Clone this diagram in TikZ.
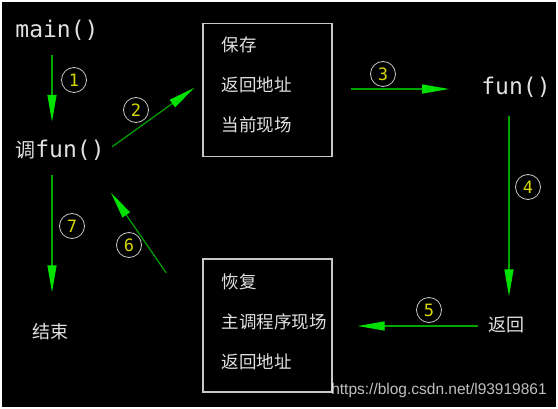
\documentclass[tikz,border=0pt]{standalone}
\usepackage{fontspec}
\usepackage{tikz}
\usetikzlibrary{arrows.meta}
\newfontfamily\cjk{Noto Sans CJK SC}
\newfontfamily\codefont{DejaVu Sans Mono}
\newfontfamily\markfont{Liberation Sans}
\definecolor{linegreen}{RGB}{0,165,0}
\definecolor{headgreen}{RGB}{0,225,0}
\definecolor{numyellow}{RGB}{215,215,0}
\definecolor{rimgray}{RGB}{200,200,200}
\definecolor{txtwhite}{RGB}{225,225,225}
\pgfdeclarelayer{background}
\pgfsetlayers{background,main}
\tikzstyle{code}=[font=\codefont\fontsize{23}{23}\selectfont, text=txtwhite, inner sep=0pt, text height=16pt, text depth=4pt]
\tikzstyle{word}=[font=\cjk\fontsize{18}{40}\selectfont, text=txtwhite, inner sep=0pt, text height=14pt, text depth=3pt]
\tikzstyle{memo}=[draw=rimgray, line width=1.2pt, minimum width=129pt, minimum height=133pt, inner sep=0pt]
\tikzstyle{memotext}=[font=\cjk\fontsize{17.5}{40}\selectfont, text=txtwhite, align=left, inner sep=0pt, anchor=west]
\tikzstyle{stepnum}=[circle, draw=rimgray, line width=0.8pt, minimum size=25pt, inner sep=0pt, text=numyellow, font=\codefont\fontsize{17}{17}\selectfont]
\tikzstyle{flow}=[draw=linegreen, line width=1.2pt, -{Triangle[length=27pt,width=9pt,color=headgreen]}]
\tikzstyle{watermark}=[font=\markfont\fontsize{15.5}{16}\selectfont, text=white, text opacity=0.75, inner sep=0pt]

\begin{document}
\begin{tikzpicture}[x=1pt, y=-1pt]
	\useasboundingbox (0,0) rectangle (558,409);
	% First the calls, the returns and the two boxes
	\node[code] (mainfn) at (57,32) {main()};
	\node[code] (callfun) at (60,152) {{\cjk\fontsize{20}{20}\selectfont 调}fun()};
	\node[code] (fun) at (516,89) {fun()};
	\node[word] (back) at (506,326) {返回};
	\node[word] (finish) at (50,333) {结束};
	\node[memo] (save) at (267.5,90) {};
	\node[memo] (restore) at (267.5,325.5) {};
	\node[memotext] (savetext) at ([xshift=19pt, yshift=5pt]save.west) {保存\\返回地址\\当前现场};
	\node[memotext] (restoretext) at ([xshift=19pt, yshift=3.5pt]restore.west) {恢复\\主调程序现场\\返回地址};

	% Step numbers
	\foreach \pos/\name/\num in {{(74,80)/one/1}, {(136,110)/two/2}, {(383,74)/three/3},
								{(528,187)/four/4}, {(429,310)/five/5}, {(129,245)/six/6}, {(72,226)/seven/7}}
	\node[stepnum] (\name) at \pos {\num};

	% Connect the steps
	\path[flow, shorten <=13pt, shorten >=20pt] ([xshift=-5pt]mainfn.south) -- ([xshift=-8pt]callfun.north);
	\path[flow, shorten <=9pt, shorten >=10pt] (callfun.east) -- ([yshift=8pt]save.west);
	\path[flow, shorten <=18pt, shorten >=32pt] (fun.west -| save.east) -- (fun.west);
	\path[flow, shorten <=17pt, shorten >=21pt] ([xshift=-7pt]fun.south) -- ([xshift=3pt]back.north);
	\path[flow, shorten <=10pt, shorten >=25pt] (back.west) -- (back.west -| restore.east);
	\path[flow, shorten <=64pt, shorten >=37pt] (restore.west) -- ([xshift=30pt]callfun.south);
	\path[flow, shorten <=13pt, shorten >=32pt] ([xshift=-8pt]callfun.south) -- ([xshift=2pt]finish.north);

	\node[watermark] (site) at (439,390) {https://blog.csdn.net/l93919861};

	\begin{pgfonlayer}{background}
		\fill[white] (0,0) rectangle (558,409);
		\fill[black] (2,2) rectangle (556,407);
	\end{pgfonlayer}
\end{tikzpicture}
\end{document}
